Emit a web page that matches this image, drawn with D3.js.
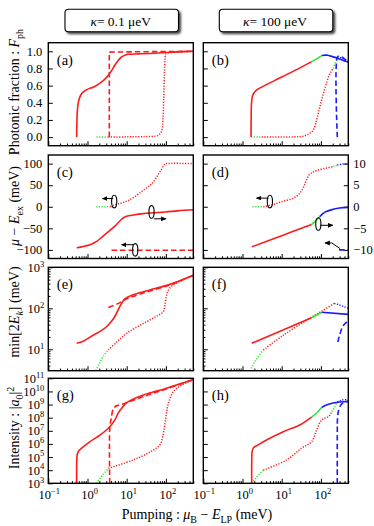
<!DOCTYPE html>
<html><head><meta charset="utf-8">
<script src="https://cdn.jsdelivr.net/npm/d3@7"></script>
<style>
body{margin:0;background:#fff}
svg{display:block}
svg text{font-family:"Liberation Serif","DejaVu Serif",serif;fill:#000}
</style>
</head><body>
<script>
// ---------------- data ----------------
const columnTitles = ["0.1", "100"];           // kappa values (μeV)
const panelLetters = ["a","b","c","d","e","f","g","h"];
const xTickValues = [0.1, 1, 10, 100];
const xTickExps = ["−1", "0", "1", "2"];
const fphTicks = [0, 0.2, 0.4, 0.6, 0.8, 1.0];
const muTicks = [-100, -50, 0, 50, 100];
const muRightTicks = [-10, -5, 0, 5, 10];
const ekTicks = [10, 100, 1000];
const ekExps = ["1", "2", "3"];
const intTicks = [1e3,1e4,1e5,1e6,1e7,1e8,1e9,1e10,1e11];
const intExps = ["3","4","5","6","7","8","9","10","11"];

// (a) photonic fraction, kappa = 0.1
const a_red_solid = [[0.53,0],[0.535,0.15],[0.55,0.3],[0.58,0.4],[0.63,0.46],[0.72,0.51],[0.86,0.54],[1.1,0.565],[1.4,0.58],[2.08,0.63],[2.7,0.67],[3.4,0.72],[4.2,0.78],[5.0,0.84],[6,0.89],[7.4,0.935],[9,0.955],[11,0.965],[20,0.97],[39,0.975],[100,0.985],[200,0.993],[500,1.0]];
const a_red_dashed = [[3.6,0],[3.6,0.99],[10,0.993],[100,0.997],[500,1.0]];
const a_green_dotted = [[1.7,0],[3.4,0]];
const a_red_dotted = [[3.4,0],[10,0.003],[30,0.006],[55,0.012],[68,0.03],[78,0.07],[84,0.2],[88,0.45],[92,0.75],[96,0.93],[100,0.97],[130,0.985],[500,1.0]];
// (b) photonic fraction, kappa = 100
const b_red_solid = [[1.65,0],[1.66,0.2],[1.7,0.4],[1.8,0.48],[2.0,0.52],[2.3,0.55],[3,0.58],[10,0.70],[30,0.81],[58,0.88]];
const b_green_solid = [[58,0.88],[80,0.915],[105,0.95]];
const b_blue_solid = [[105,0.95],[140,0.955],[206,0.935],[300,0.91],[450,0.88],[500,0.875]];
const b_blue_dashed = [[262,0],[262,0.93],[290,0.945],[350,0.93],[420,0.905],[500,0.885]];
const b_blue_dotted = [[262,0.92],[330,0.925],[420,0.9],[500,0.88]];
const b_green_dotted_low = [[1.65,0],[3.1,0]];
const b_red_dotted = [[3.1,0],[20,0.003],[35,0.01],[50,0.04],[64,0.085],[75,0.17],[86,0.28],[100,0.40],[116,0.51],[135,0.61],[156,0.70],[180,0.76],[206,0.80]];
const b_green_dotted_high = [[206,0.80],[235,0.87],[262,0.92]];
// (c) mu - Eex, kappa = 0.1
const c_green_dotted = [[1.66,0],[3.8,0]];
const c_red_dotted = [[3.8,0],[4.5,3],[7,8],[10,13],[14.7,21],[26.5,38],[39.6,50],[50,60],[64,75],[75,85],[86,94],[95,99],[100,100],[500,100]];
const c_red_solid = [[0.53,-95],[0.7,-93],[1.16,-88],[1.8,-79],[2.5,-68],[3.5,-57],[5,-45],[6.2,-36],[7.4,-29],[8.5,-25],[10,-22],[15,-19],[26.5,-16],[50,-14],[100,-12],[200,-9.5],[500,-7]];
const c_red_dashed = [[4.1,-101],[500,-101]];
// (d) mu - Eex, kappa = 100 (left-axis units)
const d_green_dotted_low = [[1.8,0],[3.4,0]];
const d_red_dotted = [[3.4,0],[6,5],[11,13],[20,20],[28,30],[35,43],[42,60],[50,74],[62,80],[78,84],[140,90],[206,93]];
const d_green_dotted_high = [[206,93],[262,97]];
const d_blue_dotted = [[262,97],[350,99],[500,100]];
const d_red_solid = [[1.72,-93],[10,-67],[58,-41]];
const d_green_solid = [[58,-41],[75,-32],[93,-23]];
const d_blue_solid = [[93,-23],[130,-12],[206,-6],[300,-3],[500,-1.5]];
const d_blue_dashed = [[290,-100],[500,-100]];
// (e) min[2E_k]
const e_red_solid = [[0.53,14],[0.8,16],[1.4,22],[2.2,28],[3.1,36],[4,47],[5,63],[6,90],[7.4,132],[9,170],[11,192],[20,235],[39,280],[100,357],[200,450],[500,640]];
const e_red_dashed = [[3.4,105],[6,130],[10,170],[20,215],[50,285],[100,345],[200,440],[500,640]];
const e_green_dotted = [[1.65,3.0],[2.0,4.5],[2.6,7],[3.4,9.6]];
const e_red_dotted = [[3.4,9.6],[6,16],[10,24.5],[32,47],[60,65],[86,83],[95,120],[100,175],[112,260],[125,310],[160,380],[500,640]];
// (f)
const f_red_solid = [[1.72,14],[58,59]];
const f_green_solid = [[58,59],[105,80]];
const f_blue_solid = [[105,80],[500,71]];
const f_green_dotted = [[1.65,3.4],[2.2,5.5],[3.4,9.6]];
const f_red_dotted = [[3.4,9.6],[11,22],[52,57],[105,85],[220,132]];
const f_blue_dotted = [[220,132],[300,120],[400,108],[500,100]];
const f_blue_dashed = [[270,15],[300,22],[360,36],[430,44],[500,49]];
// (g) intensity
const g_red_solid = [[0.53,1e3],[0.53,3e4],[0.545,1.5e5],[0.6,3e5],[0.71,4.7e5],[1.16,1.5e6],[2.1,4.8e6],[3.4,1.55e7],[5,6.8e7],[6.2,2.5e8],[7.4,5.1e8],[10,1.4e9],[26.5,5.4e9],[100,1.7e10],[500,8e10]];
const g_red_dashed = [[3.7,1e3],[3.7,1.6e7],[4.0,8e7],[4.6,5e8],[5.5,8e8],[6.5,9e8],[8,1.1e9],[10,1.4e9],[30,4.6e9],[100,1.5e10],[500,8e10]];
const g_green_dotted = [[1.7,1e3],[2.2,3e3],[2.8,7e3],[3.4,1.4e4]];
const g_red_dotted = [[3.4,1.4e4],[14.7,6e4],[40,2.5e5],[70,8.3e5],[85,5e6],[95,3.7e7],[105,3e8],[116,1.3e9],[154,9.5e9],[250,3e10],[500,8e10]];
// (h)
const h_red_solid = [[1.72,1e3],[1.72,3e4],[1.76,2.5e5],[1.9,5e5],[2.5,8.5e5],[4.1,2e6],[11,8.5e6],[29,2.8e7],[58,1.1e8]];
const h_green_solid = [[58,1.1e8],[80,2.5e8],[105,6.3e8]];
const h_blue_solid = [[105,6.3e8],[150,1e9],[206,1.3e9],[300,1.55e9],[500,1.7e9]];
const h_green_dotted_low = [[1.72,1e3],[2.2,2.5e3],[2.8,5.5e3],[3.4,1e4]];
const h_red_dotted = [[3.4,1e4],[13.4,6e4],[32,4.7e5],[58,1.5e6],[78,1.15e7],[105,6.8e7],[156,1.2e8],[190,2.9e8]];
const h_green_dotted_high = [[190,2.9e8],[230,8e8],[262,1.6e9]];
const h_blue_dotted = [[262,1.6e9],[350,2.2e9],[500,2.4e9]];
const h_blue_dashed = [[262,1e3],[262,1e7],[266,1e8],[285,4e8],[330,1e9],[400,1.5e9],[500,1.8e9]];

// annotations (rings + arrows), data coordinates
const c_rings = [[4.8,12],[43,-12],[16.5,-100]];
const c_arrows = [[[4.5,19],[2.4,19]],[[50,-28],[100,-28]],[[15,-88],[7.4,-88]]];
const d_rings = [[5.0,12],[86,-40]];
const d_arrows = [[[4.6,20],[2.3,20]],[[95,-43],[200,-43]],[[307,-97],[190,-84],[127,-84]]];

// ---------------- layout ----------------
const RED = "#ff1a1a", GREEN = "#2ee62e", BLUE = "#1a1aff";
const FONT = "'Liberation Serif','DejaVu Serif',serif";
const colX = [[48.3,193.3],[203.3,348.3]];
const rowY = [[42.7,145.7],[155,258.5],[267.3,370.7],[378.3,483.3]];

const svg = d3.select("body").append("svg").attr("width",374).attr("height",526).attr("font-family",FONT);
const defs = svg.append("defs");
defs.append("filter").attr("id","sh").attr("x","-10%").attr("y","-20%").attr("width","130%").attr("height","160%")
  .append("feDropShadow").attr("dx",2).attr("dy",2).attr("stdDeviation",0.9)
  .attr("flood-color","#333").attr("flood-opacity",0.9);
defs.append("marker").attr("id","arr").attr("viewBox","0 0 8 8").attr("refX",7).attr("refY",4)
  .attr("markerWidth",5.5).attr("markerHeight",5.5).attr("orient","auto").attr("markerUnits","userSpaceOnUse")
  .append("path").attr("d","M0,0.5 L8,4 L0,7.5 Z").attr("fill","#000");

const xScales = colX.map(r => d3.scaleLog().domain([0.1,500]).range(r));
const yScales = [
  d3.scaleLinear().domain([-0.1,1.1]).range([rowY[0][1],rowY[0][0]]),
  d3.scaleLinear().domain([-120,120]).range([rowY[1][1],rowY[1][0]]),
  d3.scaleLog().domain([3,1000]).range([rowY[2][1],rowY[2][0]]),
  d3.scaleLog().domain([1e3,1e11]).range([rowY[3][1],rowY[3][0]])
];
const yRightD = d3.scaleLinear().domain([-12,12]).range([rowY[1][1],rowY[1][0]]);

const series = {
  a:[[a_green_dotted,GREEN,"dot"],[a_red_dotted,RED,"dot"],[a_red_dashed,RED,"dash","lin"],[a_red_solid,RED,"solid"]],
  b:[[b_green_dotted_low,GREEN,"dot"],[b_red_dotted,RED,"dot"],[b_green_dotted_high,GREEN,"dot"],[b_blue_dotted,BLUE,"dot"],[b_blue_dashed,BLUE,"dash"],[b_red_solid,RED,"solid"],[b_green_solid,GREEN,"solid"],[b_blue_solid,BLUE,"solid"]],
  c:[[c_green_dotted,GREEN,"dot"],[c_red_dotted,RED,"dot"],[c_red_dashed,RED,"dash","lin"],[c_red_solid,RED,"solid"]],
  d:[[d_green_dotted_low,GREEN,"dot"],[d_red_dotted,RED,"dot"],[d_green_dotted_high,GREEN,"dot"],[d_blue_dotted,BLUE,"dot"],[d_blue_dashed,BLUE,"dash","lin"],[d_red_solid,RED,"solid"],[d_green_solid,GREEN,"solid"],[d_blue_solid,BLUE,"solid"]],
  e:[[e_green_dotted,GREEN,"dot"],[e_red_dotted,RED,"dot"],[e_red_dashed,RED,"dash"],[e_red_solid,RED,"solid"]],
  f:[[f_green_dotted,GREEN,"dot"],[f_red_dotted,RED,"dot"],[f_blue_dotted,BLUE,"dot"],[f_blue_dashed,BLUE,"dash"],[f_red_solid,RED,"solid","lin"],[f_green_solid,GREEN,"solid","lin"],[f_blue_solid,BLUE,"solid","lin"]],
  g:[[g_green_dotted,GREEN,"dot"],[g_red_dotted,RED,"dot"],[g_red_dashed,RED,"dash"],[g_red_solid,RED,"solid"]],
  h:[[h_green_dotted_low,GREEN,"dot"],[h_red_dotted,RED,"dot"],[h_green_dotted_high,GREEN,"dot"],[h_blue_dotted,BLUE,"dot"],[h_blue_dashed,BLUE,"dash"],[h_red_solid,RED,"solid"],[h_green_solid,GREEN,"solid"],[h_blue_solid,BLUE,"solid"]]
};
const annotations = {c:[c_rings,c_arrows], d:[d_rings,d_arrows]};

function minors(lo, hi){ const out=[]; for(let p=Math.floor(Math.log10(lo)); p<=Math.ceil(Math.log10(hi)); p++){ for(let m=2;m<=9;m++){const v=m*Math.pow(10,p); if(v>lo*1.0001 && v<=hi*1.0001) out.push(v);} } return out; }
const xMinor = minors(0.1,500);
const ekMinor = minors(3,1000);

function sup(sel, base, exp, fs, efs){
  sel.append("tspan").text(base);
  sel.append("tspan").attr("dy",-fs*0.42).attr("font-size",efs).text(exp);
}

panelLetters.forEach((L, i) => {
  const col = i % 2, row = Math.floor(i/2);
  const x = xScales[col], y = yScales[row];
  const [x0,x1] = colX[col], [y0,y1] = rowY[row];
  const g = svg.append("g");
  const clipId = "clip"+L;
  defs.append("clipPath").attr("id",clipId).append("rect").attr("x",x0).attr("y",y0).attr("width",x1-x0).attr("height",y1-y0);

  const axB = g.append("g").attr("transform",`translate(0,${y1})`);
  axB.call(d3.axisBottom(x).tickValues(xMinor).tickSize(-2.2).tickFormat(""));
  axB.append("g").call(d3.axisBottom(x).tickValues(xTickValues).tickSize(-4.5).tickFormat(""));
  axB.selectAll(".domain").remove();
  axB.selectAll("line").attr("stroke","#000").attr("stroke-width",1);

  const axL = g.append("g").attr("transform",`translate(${x0},0)`);
  const yt = [fphTicks, muTicks, ekTicks, intTicks][row];
  axL.call(d3.axisLeft(y).tickValues(yt).tickSize(-4.5).tickFormat(""));
  if (row === 2) axL.append("g").call(d3.axisLeft(y).tickValues(ekMinor).tickSize(-2.2).tickFormat(""));
  axL.selectAll(".domain").remove();
  axL.selectAll("line").attr("stroke","#000").attr("stroke-width",1);

  if (L === "d") {
    const axR = g.append("g").attr("transform",`translate(${x1},0)`);
    axR.call(d3.axisRight(yRightD).tickValues(muRightTicks).tickSize(-4.5).tickFormat(""));
    axR.selectAll(".domain").remove();
    axR.selectAll("line").attr("stroke","#000").attr("stroke-width",1);
    g.selectAll(".rlab").data(muRightTicks).join("text").attr("class","rlab")
      .attr("x", x1+5).attr("y", d=>yRightD(d)+4.3).attr("font-size",12.5)
      .text(d => d<0 ? "−"+Math.abs(d) : d);
  }

  const plot = g.append("g").attr("clip-path",`url(#${clipId})`);
  series[L].forEach(([data,color,style,curve]) => {
    const line = d3.line().x(d=>x(d[0])).y(d=>y(d[1]))
      .curve(curve==="lin" ? d3.curveLinear : d3.curveCatmullRom.alpha(0.5));
    plot.append("path").attr("d",line(data)).attr("fill","none").attr("stroke",color)
      .attr("stroke-width", style==="dot"?1.5:1.6)
      .attr("stroke-dasharray", style==="dot"?"1.2,1.5":(style==="dash"?"5.5,3":null))
      .attr("stroke-linejoin","round");
  });

  if (annotations[L]) {
    const [rings, arrows] = annotations[L];
    arrows.forEach(pts => {
      g.append("path").attr("d", d3.line().x(d=>x(d[0])).y(d=>y(d[1]))(pts))
        .attr("fill","none").attr("stroke","#000").attr("stroke-width",1).attr("marker-end","url(#arr)");
    });
    rings.forEach(r => {
      g.append("ellipse").attr("cx",x(r[0])).attr("cy",y(r[1])).attr("rx",2.6).attr("ry",6.3)
        .attr("fill","none").attr("stroke","#000").attr("stroke-width",1.1);
    });
  }

  g.append("rect").attr("x",x0).attr("y",y0).attr("width",x1-x0).attr("height",y1-y0)
    .attr("fill","none").attr("stroke","#000").attr("stroke-width",1.4);

  g.append("text").attr("x",x0+8.5).attr("y",y0+22).attr("font-size",14.5).text(`(${L})`);

  if (col === 0) {
    const lab = g.append("g").attr("font-size",12.5).attr("text-anchor","end");
    if (row === 0) {
      lab.selectAll("text").data(fphTicks).join("text").attr("x",x0-6).attr("y",d=>y(d)+4.3).text(d=>d.toFixed(1));
    } else if (row === 1) {
      lab.selectAll("text").data(muTicks).join("text").attr("x",x0-6).attr("y",d=>y(d)+4.3).text(d=>d<0?"−"+Math.abs(d):d);
    } else {
      const vals = row===2 ? ekTicks : intTicks, exps = row===2 ? ekExps : intExps;
      vals.forEach((v,k) => {
        const t = lab.append("text").attr("x",x0-4).attr("y",y(v)+4.5);
        sup(t,"10",exps[k],12.5,8.5);
      });
    }
  }

  if (row === 3) {
    xTickValues.forEach((v,k) => {
      const t = g.append("text").attr("x",x(v)+ (k===0?1:2)).attr("y",y1+16).attr("font-size",12.5).attr("text-anchor","middle");
      sup(t,"10",xTickExps[k],12.5,8.5);
    });
  }
});

columnTitles.forEach((k,i) => {
  const bx = [65,219.3][i], bw = 113.5;
  svg.append("rect").attr("x",bx).attr("y",9.3).attr("width",bw).attr("height",22.4).attr("rx",3.5)
    .attr("fill","#fff").attr("stroke","#000").attr("stroke-width",1.1).attr("filter","url(#sh)");
  const t = svg.append("text").attr("x",bx+bw/2-1).attr("y",25.5).attr("font-size",13.5).attr("text-anchor","middle");
  t.append("tspan").attr("font-style","italic").text("κ");
  t.append("tspan").text(`= ${k} μeV`);
});

function ylab(cy, build){
  const t = svg.append("text").attr("transform",`translate(19,${cy}) rotate(-90)`).attr("font-size",14).attr("text-anchor","middle");
  build(t);
}
ylab(92, t => { t.append("tspan").text("Photonic fraction : "); t.append("tspan").attr("font-style","italic").text("F");
  t.append("tspan").attr("dy",3.5).attr("font-size",10).text("ph"); });
ylab(206, t => { t.append("tspan").attr("font-style","italic").text("μ"); t.append("tspan").text(" − ");
  t.append("tspan").attr("font-style","italic").text("E"); t.append("tspan").attr("dy",3.5).attr("font-size",10).text("ex");
  t.append("tspan").attr("dy",-3.5).text(" (meV)"); });
ylab(312, t => { t.append("tspan").text("min[2"); t.append("tspan").attr("font-style","italic").text("E");
  t.append("tspan").attr("dy",3.5).attr("font-size",10).attr("font-style","italic").text("k");
  t.append("tspan").attr("dy",-3.5).text("] (meV)"); });
ylab(428, t => { t.append("tspan").text("Intensity : |"); t.append("tspan").attr("font-style","italic").text("a");
  t.append("tspan").attr("dy",3.5).attr("font-size",10).text("0"); t.append("tspan").attr("dy",-3.5).text("|");
  t.append("tspan").attr("dy",-5).attr("font-size",10).text("2"); });

const xl = svg.append("text").attr("x",197).attr("y",519).attr("font-size",14).attr("text-anchor","middle");
xl.append("tspan").text("Pumping : ");
xl.append("tspan").attr("font-style","italic").text("μ");
xl.append("tspan").attr("dy",3.5).attr("font-size",10).text("B");
xl.append("tspan").attr("dy",-3.5).text(" − ");
xl.append("tspan").attr("font-style","italic").text("E");
xl.append("tspan").attr("dy",3.5).attr("font-size",10).text("LP");
xl.append("tspan").attr("dy",-3.5).text(" (meV)");
</script>
</body></html>
